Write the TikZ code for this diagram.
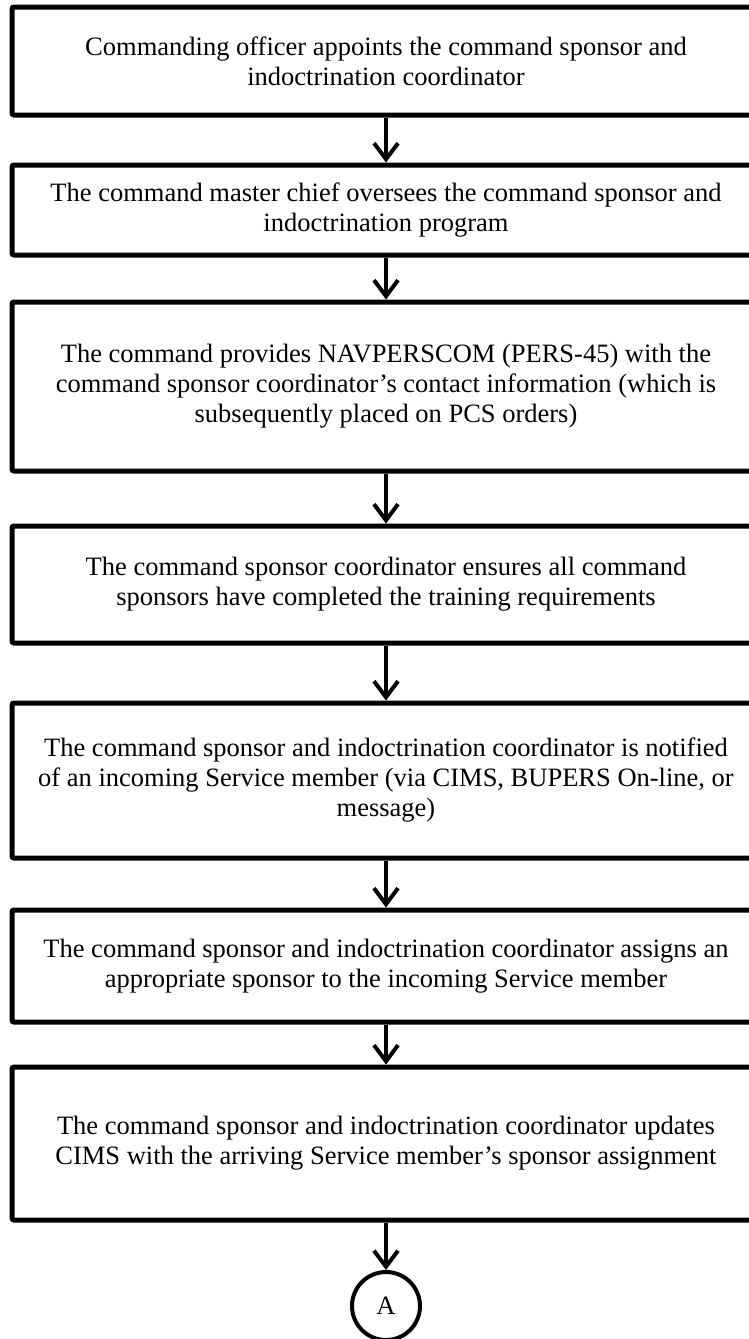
\documentclass[tikz,border=0pt]{standalone}
\usepackage{fontspec}
\setmainfont{Liberation Serif}
\usetikzlibrary{arrows.meta}

\begin{document}
\begin{tikzpicture}[x=1pt, y=1pt,
  font=\fontsize{26.5}{30}\selectfont,
  stepbox/.style={draw, line width=5pt, rounded corners=2pt, align=center,
    minimum width=748pt, inner sep=0pt},
  link/.style={line width=4pt, -{Straight Barb[length=16pt, width=24pt]}}]
\useasboundingbox (0,0) rectangle (749,-1339);
\clip (0,0) rectangle (749,-1339);

% Steps
\node[stepbox, minimum height=108pt] (appoint) at (386,-61)
  {Commanding officer appoints the command sponsor and\\indoctrination coordinator};
\node[stepbox, minimum height=90pt] (oversee) at (386,-210)
  {The command master chief oversees the command sponsor and\\indoctrination program};
\node[stepbox, minimum height=169pt] (provide) at (386,-386.5)
  {The command provides NAVPERSCOM (PERS-45) with the\\command sponsor coordinator’s contact information (which is\\subsequently placed on PCS orders)};
\node[stepbox, minimum height=117pt] (train) at (386,-584.5)
  {The command sponsor coordinator ensures all command\\sponsors have completed the training requirements};
\node[stepbox, minimum height=155pt] (notify) at (386,-780.5)
  {The command sponsor and indoctrination coordinator is notified\\of an incoming Service member (via CIMS, BUPERS On-line, or\\message)};
\node[stepbox, minimum height=112pt] (assign) at (386,-966)
  {The command sponsor and indoctrination coordinator assigns an\\appropriate sponsor to the incoming Service member};
\node[stepbox, minimum height=153pt] (update) at (386,-1143.5)
  {The command sponsor and indoctrination coordinator updates\\CIMS with the arriving Service member’s sponsor assignment};

% Connector
\node[draw, circle, line width=4pt, minimum size=68pt, inner sep=0pt] (conA) at (386,-1306) {A};

% Arrows
\draw[link] (appoint) -- (oversee);
\draw[link] (oversee) -- (provide);
\draw[link] (provide) -- (train);
\draw[link] (train) -- (notify);
\draw[link] (notify) -- (assign);
\draw[link] (assign) -- (update);
\draw[link] (update) -- (conA);
\end{tikzpicture}
\end{document}
